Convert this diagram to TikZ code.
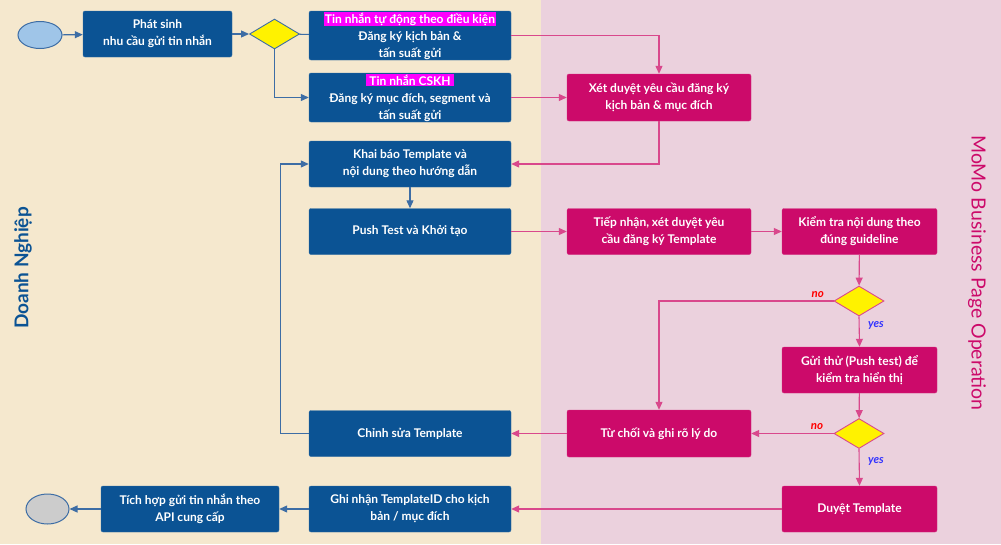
\documentclass[tikz,border=0pt]{standalone}
\usepackage{fontspec}
\setmainfont{Lato}
\usepackage{xcolor}
\usetikzlibrary{shapes.geometric, arrows.meta}
\definecolor{nenvang}{HTML}{F5E8CE}
\definecolor{nenhong}{HTML}{EBD1DD}
\definecolor{xanhdam}{HTML}{0B5394}
\definecolor{xanhnhat}{HTML}{9FC5E8}
\definecolor{duongxanh}{HTML}{3D6DA5}
\definecolor{honghop}{HTML}{CC0A6A}
\definecolor{duonghong}{HTML}{D9488C}
\definecolor{tomau}{HTML}{FF00FF}

\begin{document}
\begin{tikzpicture}[x=1pt, y=-1pt,
    hopxanh/.style={rectangle, rounded corners=2pt, fill=xanhdam, draw=xanhdam!85!white,
        text=white, align=center, inner sep=0pt,
        font=\bfseries\fontsize{12}{17}\selectfont},
    hophong/.style={hopxanh, fill=honghop, draw=honghop!85!white},
    quyetdinh/.style={diamond, fill=yellow, draw=duonghong, line width=0.9pt,
        minimum width=50pt, minimum height=30pt, inner sep=0pt},
    muixanh/.style={draw=duongxanh, line width=1.1pt, -{Triangle[length=8pt,width=7pt]}},
    muihong/.style={draw=duonghong, line width=1.1pt, -{Triangle[length=8pt,width=7pt]}},
    nhanno/.style={text=red, font=\bfseries\itshape\fontsize{11.5}{13}\selectfont},
    nhanyes/.style={text=blue!80!white, font=\bfseries\itshape\fontsize{11.5}{13}\selectfont}]
    \setlength{\fboxsep}{1pt}
    % Nen
    \useasboundingbox (0,0) rectangle (1001,544);
    \fill[nenvang] (0,0) rectangle (541,544);
    \fill[nenhong] (541,0) rectangle (1001,544);
    \node[rotate=90, text=xanhdam, font=\bfseries\fontsize{19}{22}\selectfont] (lanedn) at (23,268) {Doanh Nghiệp};
    \node[rotate=-90, text=honghop, font=\fontsize{19.5}{22}\selectfont] (lanemomo) at (977,273) {MoMo Business Page Operation};
    % Doanh nghiep
    \node[ellipse, fill=xanhnhat, draw=duongxanh, line width=1pt, minimum width=44pt, minimum height=27pt] (batdau) at (40,35) {};
    \node[hopxanh, minimum width=149pt, minimum height=46pt] (phatsinh) at (157.5,34) {Phát sinh\\nhu cầu gửi tin nhắn};
    \node[quyetdinh, draw=duongxanh] (qd1) at (274.5,34) {};
    \node[hopxanh, minimum width=202pt, minimum height=49pt] (tudong) at (410,35.5) {\colorbox{tomau}{Tin nhắn tự động theo điều kiện}\\Đăng ký kịch bản \&\\tấn suất gửi};
    \node[hopxanh, minimum width=202pt, minimum height=49pt] (cskh) at (410,97.5) {\colorbox{tomau}{\,Tin nhắn CSKH\,}\\Đăng ký mục đích, segment và\\tấn suất gửi};
    \node[hopxanh, minimum width=202pt, minimum height=46pt] (khaibao) at (410,164) {Khai báo Template và\\nội dung theo hướng dẫn};
    \node[hopxanh, minimum width=202pt, minimum height=46pt] (pushtest) at (410,231.5) {Push Test và Khởi tạo};
    \node[hopxanh, minimum width=202pt, minimum height=46pt] (chinhsua) at (410,433.5) {Chỉnh sửa Template};
    \node[hopxanh, minimum width=202pt, minimum height=46pt] (ghinhan) at (410,509) {Ghi nhận TemplateID cho kịch\\bản / mục đích};
    \node[hopxanh, minimum width=178pt, minimum height=46pt] (tichhop) at (190,509) {Tích hợp gửi tin nhắn theo\\API cung cấp};
    \node[ellipse, fill=gray!40, draw=duongxanh, line width=1pt, minimum width=43pt, minimum height=30pt] (ketthuc) at (47.5,509) {};
    % MoMo
    \node[hophong, minimum width=184pt, minimum height=47pt] (xetduyet) at (659,97.5) {Xét duyệt yêu cầu đăng ký\\kịch bản \& mục đích};
    \node[hophong, minimum width=184pt, minimum height=46pt] (tiepnhan) at (659,231.5) {Tiếp nhận, xét duyệt yêu\\cầu đăng ký Template};
    \node[hophong, minimum width=155pt, minimum height=46pt] (kiemtra) at (859.5,231.5) {Kiểm tra nội dung theo\\đúng guideline};
    \node[quyetdinh] (qd2) at (859,301) {};
    \node[hophong, minimum width=155pt, minimum height=46pt] (goithu) at (859.5,370) {Gửi thử (Push test) để\\kiểm tra hiển thị};
    \node[quyetdinh] (qd3) at (859,433.5) {};
    \node[hophong, minimum width=184pt, minimum height=47pt] (tuchoi) at (659,433.5) {Từ chối và ghi rõ lý do};
    \node[hophong, minimum width=155pt, minimum height=46pt] (duyet) at (859.5,509) {Duyệt Template};
    % Mui ten
    \draw[muixanh] (batdau) -- (phatsinh);
    \draw[muixanh] (phatsinh) -- (qd1);
    \draw[draw=duongxanh, line width=1.1pt] (qd1) -- (tudong);
    \draw[muixanh] (qd1.south) |- (cskh.west);
    \draw[muihong] (tudong.east) -| (xetduyet.north);
    \draw[muihong] (cskh) -- (xetduyet);
    \draw[muihong] (xetduyet.south) |- (khaibao.east);
    \draw[muixanh] (khaibao) -- (pushtest);
    \draw[muihong] (pushtest) -- (tiepnhan);
    \draw[muihong] (tiepnhan) -- (kiemtra);
    \draw[muihong] (kiemtra) -- (qd2);
    \draw[muihong] (qd2.west) -| node[pos=0.045, above, nhanno] {no} (tuchoi.north);
    \draw[muihong] (qd2.south) -- node[pos=0.3, right=5pt, nhanyes] {yes} (goithu.north);
    \draw[muihong] (goithu) -- (qd3);
    \draw[muihong] (qd3.west) -- node[pos=0.2, above, nhanno] {no} (tuchoi.east);
    \draw[muihong] (qd3.south) -- node[pos=0.34, right=5pt, nhanyes] {yes} (duyet.north);
    \draw[muihong] (tuchoi) -- (chinhsua);
    \draw[muixanh] (chinhsua.west) -- ++(-28,0) |- (khaibao.west);
    \draw[muihong] (duyet) -- (ghinhan);
    \draw[muixanh] (ghinhan) -- (tichhop);
    \draw[muixanh] (tichhop) -- (ketthuc);
\end{tikzpicture}
\end{document}
